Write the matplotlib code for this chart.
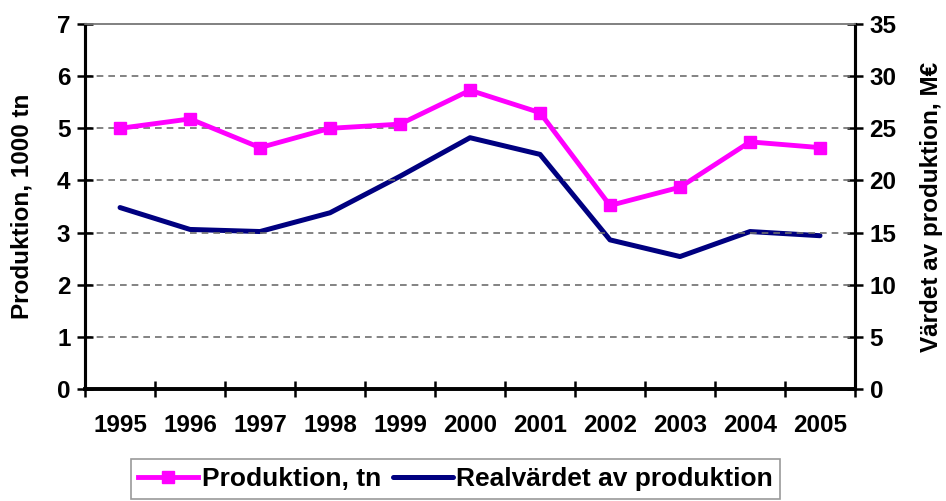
import matplotlib
matplotlib.use("Agg")
import matplotlib.pyplot as plt
import numpy as np

years = ["1995", "1996", "1997", "1998", "1999", "2000", "2001", "2002", "2003", "2004", "2005"]
produktion = [5.0, 5.18, 4.63, 5.0, 5.08, 5.73, 5.3, 3.52, 3.87, 4.74, 4.63]
realvarde = [17.4, 15.3, 15.1, 16.9, 20.4, 24.1, 22.5, 14.3, 12.7, 15.1, 14.7]

magenta = '#FF00FF'
navy = '#000080'
fs = 17.5

plt.rcParams['font.family'] = ['Liberation Sans', 'DejaVu Sans']
plt.rcParams['font.weight'] = 'bold'

fig = plt.figure(figsize=(9.46, 5.01), dpi=100)
ax = fig.add_axes([0.0899, 0.2236, 0.8139, 0.7284])
ax2 = ax.twinx()

x = np.arange(len(years))
line1, = ax.plot(x, produktion, color=magenta, linewidth=3.5, marker='s', markersize=8.5,
                 label="Produktion, tn", zorder=4)
line2, = ax2.plot(x, realvarde, color=navy, linewidth=3.6, label="Realvärdet av produktion",
                  solid_capstyle='round', zorder=3)

ax.set_zorder(ax2.get_zorder() + 1)
ax.patch.set_visible(False)

ax.set_xlim(-0.5, len(years) - 0.5)
ax.set_ylim(0, 7)
ax2.set_ylim(0, 35)
ax.set_yticks(range(0, 8))
ax2.set_yticks(range(0, 36, 5))

ax.set_xticks(np.arange(-0.5, len(years), 1.0))
ax.set_xticklabels([])
ax.set_xticks(x, minor=True)
ax.set_xticklabels(years, minor=True, fontsize=fs, fontweight='bold')
ax.tick_params(axis='x', which='minor', length=0, pad=18)
ax.tick_params(axis='x', which='major', direction='inout', length=11, width=1.8)

ax.tick_params(axis='y', direction='inout', length=11, width=1.8, labelsize=fs, pad=5)
ax2.tick_params(axis='y', direction='inout', length=11, width=1.8, labelsize=fs, pad=5)

for a in (ax, ax2):
    a.spines['left'].set_linewidth(2.2)
    a.spines['right'].set_linewidth(2.2)
    a.spines['bottom'].set_linewidth(2.6)
    a.spines['top'].set_color('#808080')
    a.spines['top'].set_linewidth(1.2)

for v in range(1, 7):
    ax.axhline(v, color='#6e6e6e', linestyle=(0, (4, 3)), linewidth=1.2, zorder=1)

ax.set_ylabel("Produktion, 1000 tn", fontsize=fs, fontweight='bold', labelpad=17)
ax2.set_ylabel("Värdet av produktion, M€", fontsize=fs, fontweight='bold', labelpad=17)

leg = fig.legend(handles=[line1, line2], loc='upper center', bbox_to_anchor=(0.4815, 0.0838),
                 ncol=2, fontsize=19, frameon=True, fancybox=False, edgecolor='#808080',
                 handlelength=2.27, handletextpad=0.12, columnspacing=0.45, borderpad=0.3,
                 borderaxespad=0)
leg.get_frame().set_linewidth(1.2)
for t in leg.get_texts():
    t.set_fontweight('bold')

fig.savefig("out.png", dpi=100)
